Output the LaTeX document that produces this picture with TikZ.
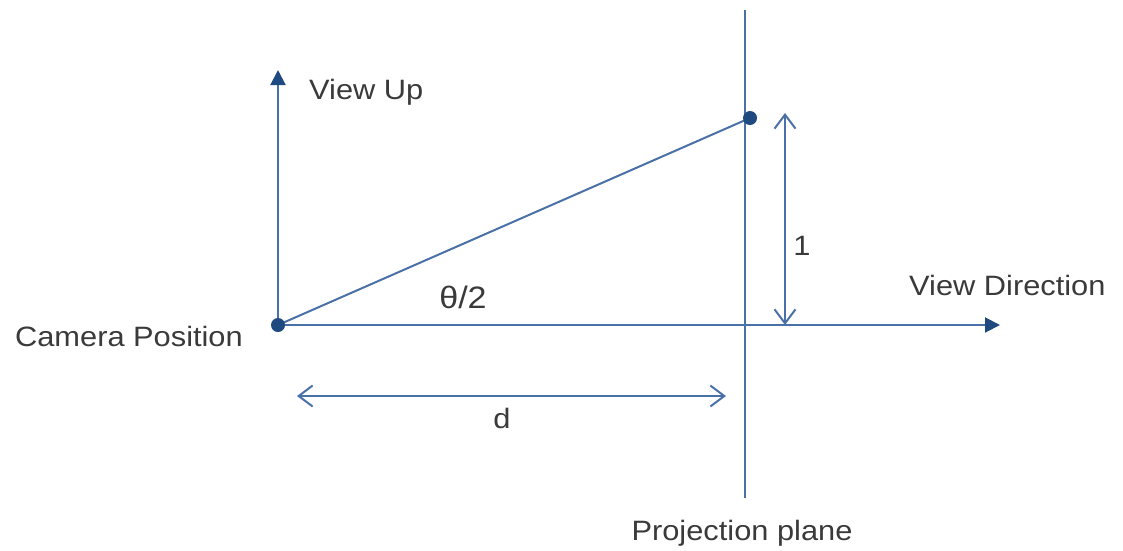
\documentclass[tikz,border=0pt]{standalone}
\usepackage{fontspec}
\setmainfont[FakeStretch=1.1]{Liberation Sans}
\usepackage{xcolor}
\usetikzlibrary{arrows.meta,positioning}
\definecolor{cLine}{HTML}{4A70A8}
\definecolor{cDark}{HTML}{1F4A80}
\definecolor{cText}{HTML}{3A3A3A}
\tikzset{
  ln/.style   = {draw=cLine, line width=2pt},
  axis/.style = {ln, -{Triangle[length=15pt,width=15pt,color=cDark]}},
  dim/.style  = {ln, {Straight Barb[length=14pt,width=21pt]}-{Straight Barb[length=14pt,width=21pt]}},
  dot/.style  = {circle, fill=cDark, inner sep=0pt, minimum size=14pt},
  lbl/.style  = {text=cText, inner sep=0pt, font=\fontsize{28}{32}\selectfont},
}
\begin{document}
\begin{tikzpicture}[x=1pt,y=-1pt]
  \useasboundingbox (0,0) rectangle (1123,550);
  \coordinate (cam) at (278,325);
  \coordinate (upend) at (278,70);
  \coordinate (dirend) at (1000,325);
  \coordinate (pltop) at (745,10);
  \coordinate (plbot) at (745,498);
  \coordinate (hit) at (750,118);
  \coordinate (onetop) at (785,113);
  \coordinate (onebot) at (785,325);
  \coordinate (dleft) at (297,396);
  \coordinate (dright) at (726,396);

  \draw[ln] (pltop) -- (plbot);
  \draw[ln] (cam) -- (hit);
  \draw[axis] (cam) -- (upend);
  \draw[axis] (cam) -- (dirend);
  \draw[dim] (onebot) -- (onetop);
  \draw[dim] (dleft) -- (dright);
  \node[dot] (camdot) at (cam) {};
  \node[dot] (hitdot) at (hit) {};

  \node[lbl, anchor=west] (uplbl) at (309,92) {View Up};
  \node[lbl, anchor=east] (camlbl) at (243,336) {Camera Position};
  \node[lbl, font=\fontsize{31}{34}\selectfont] (anglbl) at (463,297) {θ/2};
  \node[lbl, anchor=west] (dirlbl) at (909,285) {View Direction};
  \node[lbl] (onelbl) at (802,246) {1};
  \node[lbl] (dlbl) at (502,418) {d};
  \node[lbl] (pllbl) at (742,533) {Projection plane};
\end{tikzpicture}
\end{document}
